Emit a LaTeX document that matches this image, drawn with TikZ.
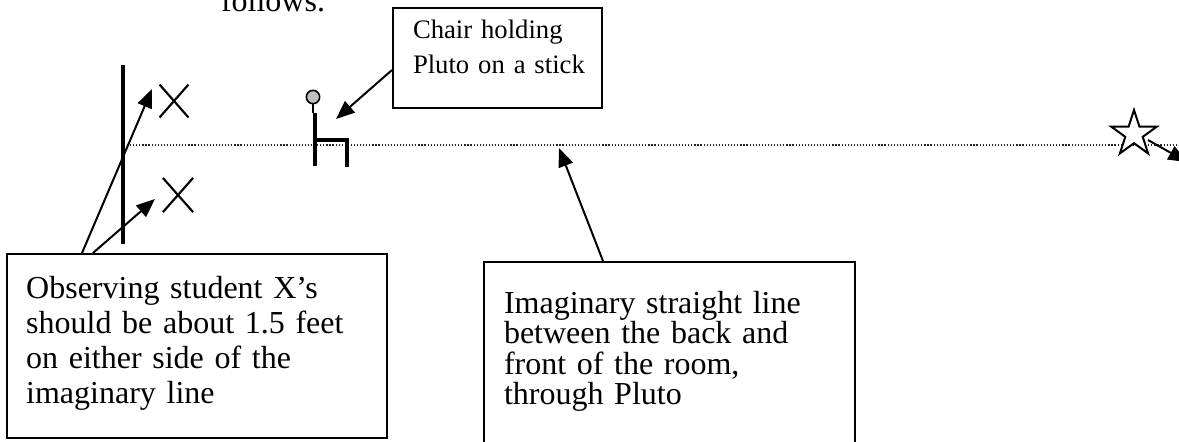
\documentclass[tikz,border=0pt]{standalone}
\usepackage{fontspec}
\setmainfont{Liberation Serif}
\usetikzlibrary{shapes.geometric}
\usetikzlibrary{shapes.misc}
\usetikzlibrary{positioning}
\usetikzlibrary{arrows.meta}

\begin{document}
\begin{tikzpicture}[x=0.375pt,y=-0.375pt,>={Triangle[length=7pt,width=5.6pt]},
	line width=0.75pt,
	box node/.style={draw,rectangle,anchor=north west,inner sep=0pt},
	label text/.style={anchor=north west,inner sep=0pt,align=left,text width=124pt},
	cross node/.style={draw,cross out,inner sep=0pt,line width=0.8pt},
	thick part/.style={line width=1.6pt}]

	\useasboundingbox (0,0) rectangle (1179,441);

	\node[anchor=base west,inner sep=0pt,font=\fontsize{12}{14}\selectfont] (follows) at (220,11) {follows.};

	% the three boxes
	\node[box node,minimum width=142.5pt,minimum height=69pt] (obsbox) at (6,253) {};
	\node[box node,minimum width=139pt,minimum height=80pt] (linebox) at (483,261) {};
	\node[box node,minimum width=78.4pt,minimum height=37.5pt] (chairbox) at (392,7) {};

	\node[label text,font=\fontsize{12}{13.1}\selectfont] (obstext) [below right=8.25pt and 7.2pt of obsbox.north west]
		{Observing student X’s\\should be about 1.5 feet\\on either side of the\\imaginary line};
	\node[label text,font=\fontsize{12}{11.4}\selectfont] (linetext) [below right=10.9pt and 7.5pt of linebox.north west]
		{Imaginary straight line\\between the back and\\front of the room,\\through Pluto};
	\node[label text,text width=71pt,font=\fontsize{10}{13.3}\selectfont] (chairtext) [below right=4.5pt and 7.5pt of chairbox.north west]
		{Chair holding\\Pluto on a stick};

	% wall, line and star
	\draw[thick part] (123,65) -- (123,244);
	\coordinate (back) at (127,145);
	\coordinate (front) at (1179,145);
	\draw[line width=0.45pt,black!85,dash pattern=on 0.45pt off 0.7pt] (back) -- (front);
	\node[draw,star,star points=5,star point ratio=2.618,minimum size=18pt,inner sep=0pt,fill=white] (goal) at (1134,134) {};

	% observers
	\node[cross node,minimum width=10pt,minimum height=11.5pt] (xup) at (174,101) {};
	\node[cross node,minimum width=10.5pt,minimum height=12pt] (xdown) at (178,195) {};

	% chair with Pluto
	\draw[line width=0.6pt] (313,104) -- (313,113);
	\draw[line width=0.6pt,fill=black!25] (313,97) circle (2.5pt);
	\draw[thick part] (315,113) -- (315,166);
	\draw[thick part] (315,140) -| (347,167);

	% arrows
	\coordinate (xuptip) at (152,89);
	\coordinate (xdowntip) at (155,199);
	\coordinate (chairtip) at (336,119);
	\coordinate (linetip) at (559,148);
	\coordinate (goaltip) at (1187,162);
	\draw[->] ([xshift=28.5pt]obsbox.north west) -- (xuptip);
	\draw[->] ([xshift=32.6pt]obsbox.north west) -- (xdowntip);
	\draw[->] ([yshift=-4.5pt]chairbox.west) -- (chairtip);
	\draw[->] ([xshift=45pt]linebox.north west) -- (linetip);
	\draw[->] ([shift={(14,6)}]goal.center) -- (goaltip);
\end{tikzpicture}
\end{document}
